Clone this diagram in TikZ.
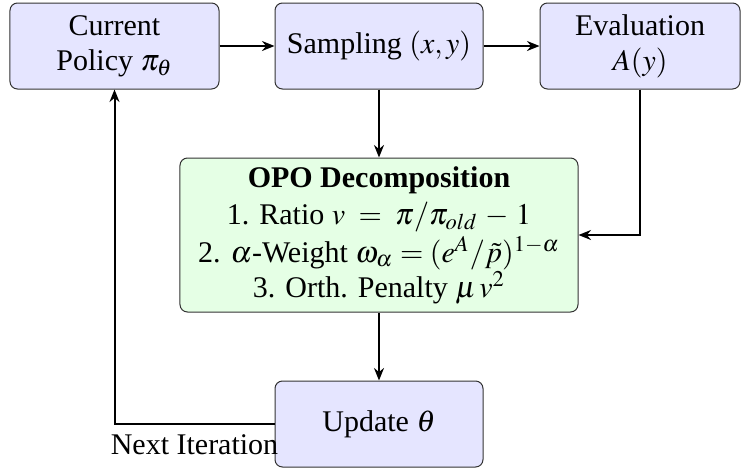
\documentclass[tikz,border=0pt]{standalone}
\usepackage{mathptmx}
\usepackage{fontspec}
\setmainfont{Liberation Serif}
\usetikzlibrary{arrows.meta}
\begin{document}
\begin{tikzpicture}[x=0.4pt,y=-0.4pt,
  font=\fontsize{12}{14}\selectfont,
  box/.style={draw=black!80, line width=0.4pt, rounded corners=3pt, fill=blue!10, align=center, inner sep=0pt, minimum height=34.4pt},
  gbox/.style={box, fill=green!10, minimum width=159.2pt, minimum height=61.6pt},
  arr/.style={-{Stealth[length=5pt,width=4pt]}, line width=0.8pt}]
\useasboundingbox (0,0) rectangle (741,468);
\node[box, minimum width=83.6pt] (cur) at (114.5,46) {Current\\Policy $\pi_\theta$};
\node[box, minimum width=83.2pt] (samp) at (379,46) {Sampling $(x, y)$};
\node[box, minimum width=80pt] (eval) at (640,46) {Evaluation\\$A(y)$};
\node[gbox] (opo) at (379,235) {\textbf{OPO Decomposition}\\[1pt]
  1. Ratio $v\;=\;\pi/\pi_{old}\,-\,1$\\[1pt]
  2. $\alpha$-Weight $\omega_\alpha=(e^A/\tilde p)^{1-\alpha}$\\[0pt]
  3. Orth. Penalty $\mu\,v^2$};
\node[box, minimum width=83.2pt] (upd) at (379,424) {Update $\theta$};
\draw[arr] (cur) -- (samp);
\draw[arr] (samp) -- (eval);
\draw[arr] (samp) -- (opo);
\draw[arr] (eval.south) |- (opo.east);
\draw[arr] (opo) -- (upd);
\draw[arr] (upd.west) -| node[pos=0.25, below, inner sep=4pt] {Next Iteration} (cur.south);
\end{tikzpicture}
\end{document}
